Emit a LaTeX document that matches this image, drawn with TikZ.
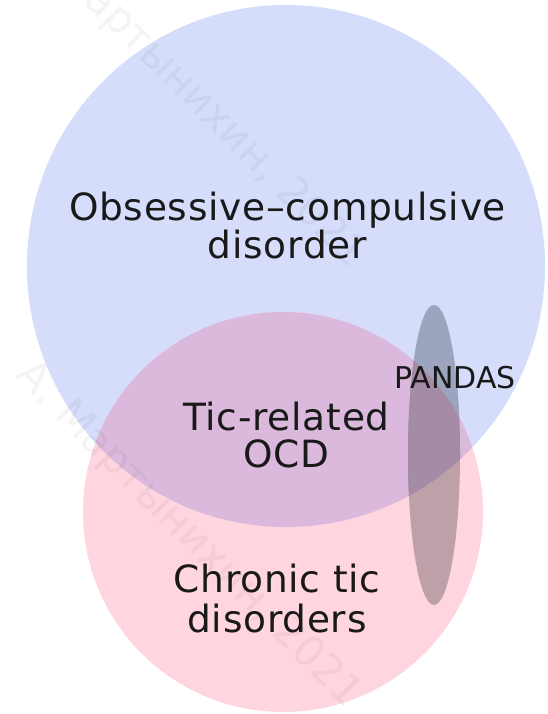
\documentclass[tikz,border=0pt]{standalone}
\usepackage{fontspec}
\setmainfont{DejaVu Sans}
\usetikzlibrary{shapes.geometric}
\definecolor{ocdblue}{HTML}{D5DDFA}
\definecolor{ticpink}{HTML}{FFD6DF}
\definecolor{overlap}{HTML}{DAB9DC}
\definecolor{pandasblue}{HTML}{9DA5BE}
\definecolor{pandaspurple}{HTML}{A68BA6}
\definecolor{pandaspink}{HTML}{BEA0A8}
\tikzset{
  biglabel/.style={anchor=base, align=center, inner sep=0pt, text=black!90,
    font={\fontsize{37.5}{36}\selectfont\addfontfeature{LetterSpace=2}}},
  smalllabel/.style={anchor=base, inner sep=0pt, text=black!90,
    font={\fontsize{30}{30}\selectfont}},
  watermark/.style={rotate=-45, inner sep=0pt, text=black, opacity=0.045,
    font={\fontsize{42}{42}\selectfont}}
}
\begin{document}
\begin{tikzpicture}[x=1pt,y=-1pt]
\useasboundingbox (0,0) rectangle (548,714);
\fill[white] (0,0) rectangle (548,714);
% main sets
\fill[ocdblue] (286,266) ellipse [x radius=259, y radius=261];
\fill[ticpink] (283,512) circle [radius=200];
\begin{scope}
  \clip (286,266) ellipse [x radius=259, y radius=261];
  \fill[overlap] (283,512) circle [radius=200];
\end{scope}
% PANDAS ellipse
\fill[pandaspink] (434,455) ellipse [x radius=26, y radius=150];
\begin{scope}
  \clip (286,266) ellipse [x radius=259, y radius=261];
  \fill[pandasblue] (434,455) ellipse [x radius=26, y radius=150];
  \clip (283,512) circle [radius=200];
  \fill[pandaspurple] (434,455) ellipse [x radius=26, y radius=150];
\end{scope}
% watermark
\node[watermark] (wm1) at (192,95) {А. Мартынихин, 2021};
\node[watermark] (wm2) at (188,535) {А. Мартынихин, 2021};
% labels (base = baseline of last line)
\node[biglabel] (ocd) at (287.5,258) {Obsessive–compulsive\\disorder};
\node[biglabel, font={\fontsize{37.5}{37}\selectfont\addfontfeature{LetterSpace=2}}] (ticocd) at (286.5,467) {Tic-related\\OCD};
\node[biglabel, font={\fontsize{37.5}{40}\selectfont\addfontfeature{LetterSpace=2}}] (chronic) at (277,632) {Chronic tic\\disorders};
\node[smalllabel] (pandas) at (455,388) {PANDAS};
\end{tikzpicture}
\end{document}
